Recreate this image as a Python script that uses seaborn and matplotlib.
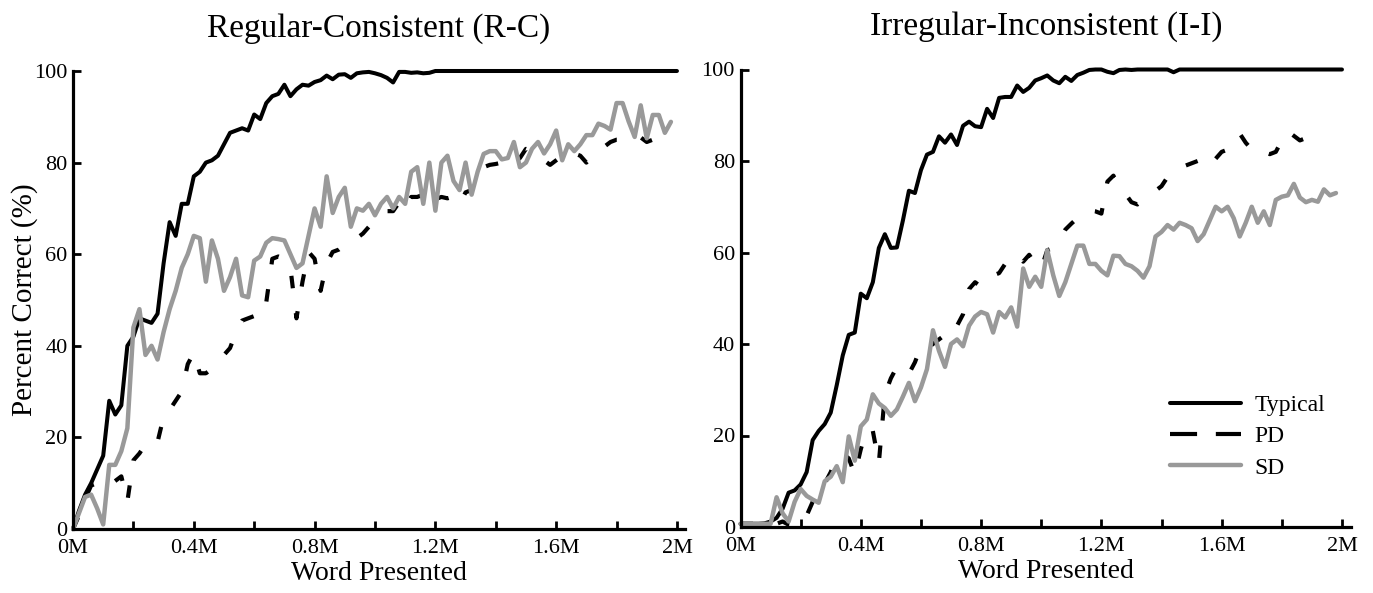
import matplotlib
matplotlib.use("Agg")
import matplotlib.pyplot as plt
import matplotlib.ticker as mticker
from matplotlib.lines import Line2D
import numpy as np
import pandas as pd
import seaborn as sns

# Percent correct, sampled every 0.02M words presented
step = 0.02

rc_typical = [0, 4, 7.5, 10, 13, 16, 28, 25, 27, 40,
              42, 46, 45.5, 45, 47, 58, 67, 64, 71, 71,
              77, 78, 80, 80.5, 81.5, 84, 86.5, 87, 87.5, 87,
              90.5, 89.5, 93, 94.5, 95, 97, 94.5, 96, 97, 96.8,
              97.6, 98, 99, 98.2, 99.2, 99.3, 98.5, 99.5, 99.7, 99.8,
              99.5, 99.1, 98.5, 97.5, 99.8, 99.8, 99.6, 99.7, 99.5, 99.6,
              100, 100, 100, 100, 100, 100, 100, 100, 100, 100,
              100, 100, 100, 100, 100, 100, 100, 100, 100, 100,
              100, 100, 100, 100, 100, 100, 100, 100, 100, 100,
              100, 100, 100, 100, 100, 100, 100, 100, 100, 100,
              100]
rc_pd = [0, 3, 6.5, 9.5, 10, 9, 9.5, 10.5, 11.5, 6,
         15, 16.5, 18.5, 19.5, 19, 24.5, 26, 28, 30, 36,
         38.5, 34, 34, 35, 36.5, 38, 39.5, 43, 45.5, 46,
         46.5, 46, 49.5, 59, 59.5, 59, 57, 46, 54, 60.5,
         59, 52, 58, 60.5, 61, 62, 62.5, 63.5, 64.5, 66,
         67.5, 68.5, 69.4, 69.4, 71.3, 69.8, 72.5, 72.5, 73, 70.5,
         72, 72.5, 72.2, 72.6, 71, 73.5, 74, 77, 79, 79.5,
         79.7, 80, 79, 80, 81, 83, 82.5, 81.5, 80.5, 79.5,
         80.5, 81.5, 82.5, 82, 81.5, 80, 81.5, 82.5, 83.5, 84.5,
         85, 85, 85, 85.5, 85.5, 84.5, 85, 86, 86.5, 87.5]
rc_sd = [0, 3.5, 7, 7.5, 4.5, 1, 14, 14, 17, 22,
         44, 48, 38, 40, 37, 43, 48, 52, 57, 60,
         64, 63.5, 54, 63, 59, 52, 55, 59, 51, 50.6,
         58.6, 59.5, 62.5, 63.5, 63.3, 63, 60, 57, 58, 64,
         70, 66, 77, 69, 72.5, 74.5, 66, 70, 69.5, 71,
         68.5, 71, 72.5, 70, 72.5, 71, 78, 79, 71, 80,
         69.5, 80, 81.5, 76, 74, 80, 73, 78, 81.9, 82.5,
         82.5, 80.7, 81, 84.5, 79, 80, 83, 84.5, 82, 84,
         87, 80.5, 84, 82.5, 84, 86, 86, 88.5, 88, 87.2,
         93, 93, 89, 85.6, 92.5, 85.3, 90.4, 90.4, 86.5, 88.9]

ii_typical = [0.7, 0.7, 0.7, 0.7, 0.8, 1.2, 2, 4, 7.5, 8,
              9.3, 12, 19, 21, 22.5, 25, 31, 37.5, 42, 42.5,
              51, 50, 53.5, 61, 64, 61, 61.1, 67, 73.5, 73,
              78, 81.4, 82, 85.4, 84, 85.8, 83.5, 87.7, 88.6, 87.6,
              87.4, 91.4, 89.4, 93.8, 94, 94, 96.5, 95.1, 96, 97.6,
              98.1, 98.7, 97.6, 97, 98.4, 97.5, 98.8, 99.3, 99.9, 100,
              100, 99.5, 99.2, 99.9, 100, 99.9, 100, 100, 100, 100,
              100, 100, 99.4, 100, 100, 100, 100, 100, 100, 100,
              100, 100, 100, 100, 100, 100, 100, 100, 100, 100,
              100, 100, 100, 100, 100, 100, 100, 100, 100, 100,
              100]
ii_pd = [0.7, 0.7, 0.7, 0.7, 0.7, 0.7, 0.7, 1.2, 0.5, 0.3,
         0.5, 2.5, 5.5, 8.5, 9.5, 12, 15.5, 16, 15, 11.5,
         17, 21.5, 21, 14, 29, 32.5, 35, 34, 33.5, 36,
         39.5, 39, 40, 41, 42, 41.5, 44, 46.5, 52, 53.5,
         52.5, 54, 55, 55.5, 57.5, 59, 59.5, 58, 59.5, 57.5,
         56.5, 60.5, 61, 62.5, 65, 66.3, 67.5, 68.5, 69.2, 69,
         68.5, 75.5, 76.8, 74, 72.8, 71, 70.5, 71.5, 72.5, 73.5,
         74.5, 76.5, 77.5, 78.5, 79, 79.5, 80, 79.5, 78.5, 80.5,
         82, 82.5, 84, 86, 84, 82.5, 81.5, 82, 81.5, 82,
         84.5, 86.5, 85.5, 84.5, 85, 86.5, 84]
ii_sd = [0.7, 0.7, 0.7, 0.7, 0.7, 0.7, 6.5, 3, 1.2, 5.5,
         8.3, 6.8, 6, 5.3, 10, 11, 13.3, 9.8, 19.8, 14.5,
         22, 23.5, 29, 27, 26, 24.3, 25.7, 28.5, 31.5, 27.5,
         30.5, 34.5, 43, 38.5, 35, 40, 41, 39.5, 44, 46,
         47, 46.5, 42.5, 47, 45.8, 48, 43.8, 56.5, 52.5, 54.7,
         52.5, 60.5, 55, 50.5, 53.5, 57.5, 61.5, 61.5, 57.5, 57.5,
         56, 55, 59.3, 59.2, 57.5, 57, 56, 54.5, 57, 63.5,
         64.5, 66, 65, 66.5, 66, 65.3, 62.5, 64, 67, 70,
         69, 70, 67.5, 63.5, 66.5, 70, 66.5, 69, 66, 71.5,
         72.2, 72.5, 75, 72, 71, 71.5, 71.1, 73.8, 72.5, 73]

groups = ["Typical", "PD", "SD"]
colors = {"Typical": "#000000", "PD": "#000000", "SD": "#999999"}
dash_map = {"Typical": "", "PD": (3.0, 6.0), "SD": ""}
widths = {"Typical": 2.9, "PD": 3.0, "SD": 3.2}
x_ticks = [0, 0.4, 0.8, 1.2, 1.6, 2.0]


def make_frame(series):
    parts = []
    for name, vals in zip(groups, series):
        words = np.round(np.arange(len(vals)) * step, 2)
        parts.append(pd.DataFrame({"words": words, "correct": vals, "group": name}))
    return pd.concat(parts, ignore_index=True)


df_rc = make_frame([rc_typical, rc_pd, rc_sd])
df_ii = make_frame([ii_typical, ii_pd, ii_sd])

sns.set_style("ticks", {"axes.edgecolor": "black", "text.color": "black",
                        "axes.labelcolor": "black", "xtick.color": "black",
                        "ytick.color": "black"})
plt.rcParams["font.family"] = ["Liberation Serif", "DejaVu Serif"]

fig = plt.figure(figsize=(13.73, 5.93), dpi=100)
ax1 = fig.add_axes([73 / 1373, 64 / 593, 611.5 / 1373, 458 / 593])
ax2 = fig.add_axes([740.5 / 1373, 66 / 593, 610.5 / 1373, 457.5 / 593])

panels = [
    (ax1, df_rc, "Regular-Consistent (R-C)", 2.025),
    (ax2, df_ii, "Irregular-Inconsistent (I-I)", 2.03),
]

for ax, df, title, xmax in panels:
    sns.lineplot(data=df, x="words", y="correct", hue="group", style="group",
                 size="group", hue_order=groups, style_order=groups,
                 size_order=groups, palette=colors, dashes=dash_map,
                 sizes=widths, estimator=None, sort=False, legend=False,
                 clip_on=False, ax=ax)
    ax.set_xlim(0, xmax)
    ax.set_ylim(0, 100)
    ax.set_xticks(x_ticks)
    ax.xaxis.set_minor_locator(mticker.MultipleLocator(0.2))
    ax.xaxis.set_major_formatter(mticker.FuncFormatter(lambda v, p: f"{v:g}M"))
    ax.set_yticks([0, 20, 40, 60, 80, 100])
    ax.tick_params(which="both", direction="in", length=6, width=2,
                   labelsize=16, pad=4, colors="black")
    ax.tick_params(axis="x", which="both", pad=7)
    for side in ["top", "right"]:
        ax.spines[side].set_visible(False)
    for side in ["left", "bottom"]:
        ax.spines[side].set_linewidth(2.3)
        ax.spines[side].set_color("black")
    ax.set_title(title, fontsize=24, pad=25, color="black")
    ax.set_xlabel("Word Presented", fontsize=20, labelpad=2, color="black")
    ax.set_ylabel("")

ax1.set_ylabel("Percent Correct (%)", fontsize=21, labelpad=-3, color="black")

# legend keys with the long dash seen in the original key
handles = [Line2D([], [], color=colors[g], lw=widths[g],
                  dashes=(6.5, 4.5) if g == "PD" else (None, None))
           for g in groups]
ax2.legend(handles, groups, frameon=False, fontsize=17, labelcolor="black",
           handlelength=3.0, handletextpad=0.6, labelspacing=0.42,
           loc="upper left", bbox_to_anchor=(0.703, 0.29),
           borderaxespad=0, borderpad=0)

fig.savefig("out.png", dpi=100)
